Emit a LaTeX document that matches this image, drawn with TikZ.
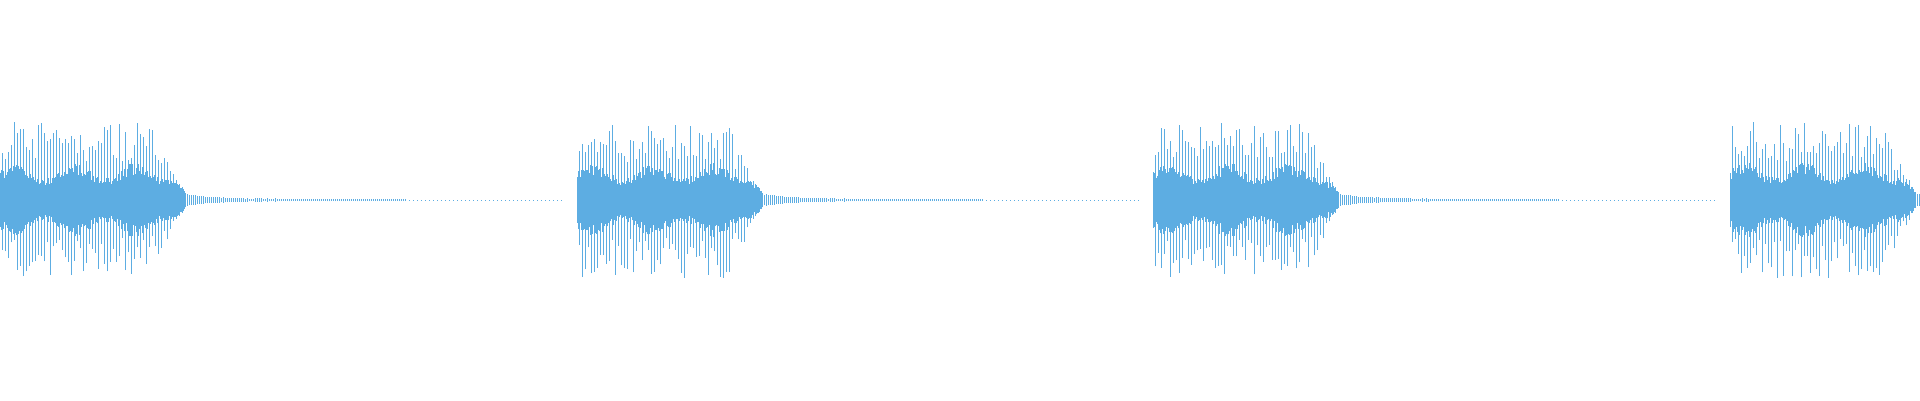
\documentclass[tikz,border=0pt]{standalone}
\begin{document}
\definecolor{wave}{RGB}{93,173,226}
\begin{tikzpicture}[x=1pt,y=1pt,wv/.style={draw=wave,line width=0.7pt}]
\useasboundingbox (0,0) rectangle (1920,400);
\clip (0,0) rectangle (1920,400);
\pgfmathsetseed{11}
\foreach \s in {0,577,1153,1730}{
  % core
  \foreach \i in {0,...,185}{
    \pgfmathsetmacro\x{\s+\i}
    \pgfmathsetmacro\h{(20+10*rnd)*(1+0.25*sin(\i*6))*min(1,(185-\i)/25+0.3)}
    \draw[wv] (\x,200-\h) -- (\x,200+\h);
  }
  % spikes
  \foreach \i in {0,...,60}{
    \pgfmathsetmacro\x{\s+2+\i*3}
    \pgfmathsetmacro\h{(38+40*rnd)*min(1,(180-\i*3)/40+0.2)}
    \pgfmathsetmacro\k{(38+40*rnd)*min(1,(180-\i*3)/40+0.2)}
    \draw[draw=wave,line width=0.5pt] (\x,200-\k) -- (\x,200+\h);
  }
  % tail
  \foreach \i in {0,...,110}{
    \pgfmathsetmacro\x{\s+185+\i*2}
    \pgfmathsetmacro\h{5*exp(-\i/15)+0.8+0.5*rnd}
    \draw[draw=wave,line width=0.5pt] (\x,200-\h) -- (\x,200+\h);
  }
  \draw[draw=wave,line width=0.6pt,dash pattern=on 1pt off 3pt] (\s+405,200) -- (\s+565,200);
}
\end{tikzpicture}
\end{document}
